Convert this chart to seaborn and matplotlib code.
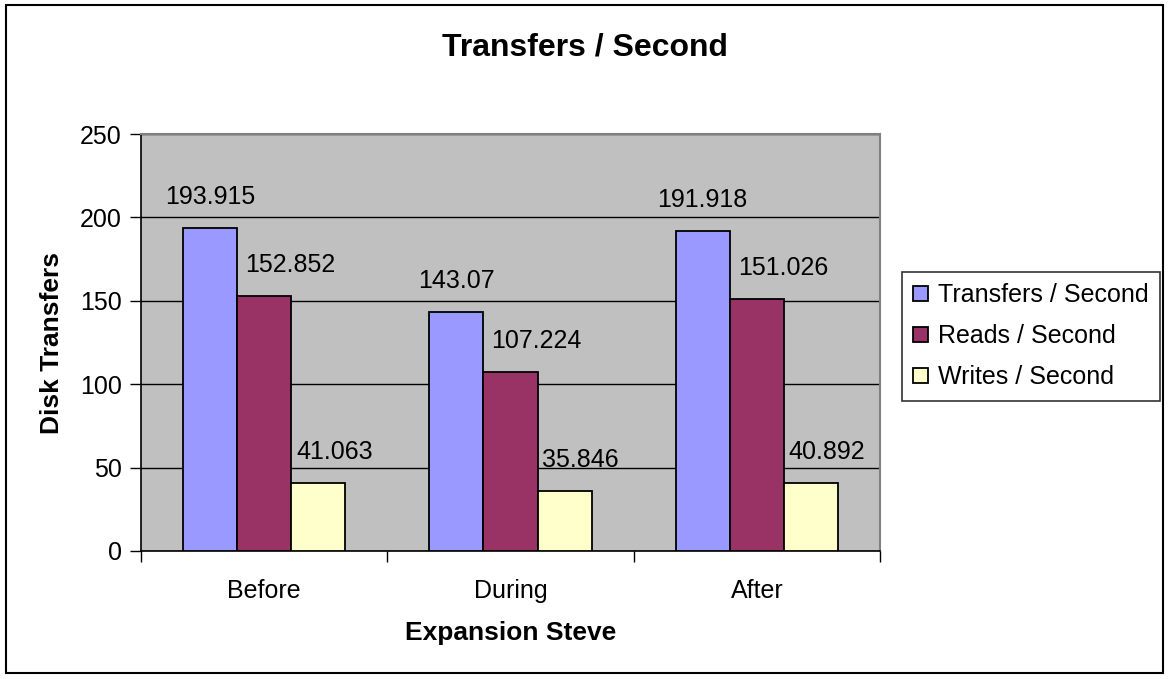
import matplotlib
matplotlib.use('Agg')
import matplotlib.pyplot as plt
import seaborn as sns
import pandas as pd
from matplotlib.patches import Rectangle

# ── Data ─────────────────────────────────────────────────────
phases    = ["Before", "During", "After"]
series    = ["Transfers / Second", "Reads / Second", "Writes / Second"]
transfers = [193.915, 143.07, 191.918]
reads     = [152.852, 107.224, 151.026]
writes    = [41.063, 35.846, 40.892]
labels    = {
    "Transfers / Second": ["193.915", "143.07", "191.918"],
    "Reads / Second":     ["152.852", "107.224", "151.026"],
    "Writes / Second":    ["41.063", "35.846", "40.892"],
}
colors    = ["#9999FF", "#993366", "#FFFFCC"]

df = pd.DataFrame({
    "phase":  phases * 3,
    "series": [s for s in series for _ in phases],
    "value":  transfers + reads + writes,
})

# ── Style ────────────────────────────────────────────────────
sns.set_style("white")
plt.rcParams['font.family'] = ['Liberation Sans', 'DejaVu Sans']
plt.rcParams['text.color'] = 'black'
plt.rcParams['axes.labelcolor'] = 'black'
plt.rcParams['xtick.color'] = 'black'
plt.rcParams['ytick.color'] = 'black'

fig = plt.figure(figsize=(11.7, 6.79), dpi=100)
ax = fig.add_axes([141/1170, 1 - 551/679, (880-141)/1170, (551-134)/679])
ax.set_facecolor("#C0C0C0")

sns.barplot(data=df, x="phase", y="value", hue="series",
            order=phases, hue_order=series, palette=colors,
            width=0.66, gap=0, edgecolor="black", linewidth=1.3,
            saturation=1, errorbar=None, ax=ax, zorder=3)

# value labels above bars (Excel-style offsets)
dx_px = {"Transfers / Second": 0, "Reads / Second": 26, "Writes / Second": 16}
for cont, name in zip(ax.containers, series):
    for bar, txt in zip(cont, labels[name]):
        ax.annotate(txt, (bar.get_x() + bar.get_width()/2, bar.get_height()),
                    xytext=(dx_px[name], 19), textcoords='offset pixels',
                    ha='center', va='bottom', fontsize=18, color='black', zorder=4)

# ── Axes ─────────────────────────────────────────────────────
ax.set_ylim(0, 250)
ax.set_xlim(-0.5, 2.5)
ax.set_yticks(range(0, 251, 50))
ax.yaxis.grid(True, color="black", linewidth=1, zorder=1)
ax.set_axisbelow(True)
ax.tick_params(axis='y', labelsize=18, length=8, width=1, direction='out',
               left=True, pad=6, colors='black')
ax.set_xticks(range(3))
ax.set_xticklabels(phases)
ax.tick_params(axis='x', labelsize=18, length=0, pad=20, colors='black')
ax.set_xticks([-0.5, 0.5, 1.5, 2.5], minor=True)
ax.tick_params(axis='x', which='minor', length=8, width=1, direction='out', bottom=True)

for side in ['left', 'bottom']:
    ax.spines[side].set_color('black')
    ax.spines[side].set_linewidth(1.2)
for side in ['top', 'right']:
    ax.spines[side].set_color('#808080')
    ax.spines[side].set_linewidth(1.5)

ax.set_xlabel("Expansion Steve", fontsize=19, fontweight='bold', labelpad=13)
ax.set_ylabel("Disk Transfers", fontsize=19, fontweight='bold', labelpad=11)

# ── Legend ───────────────────────────────────────────────────
handles, lbls = ax.get_legend_handles_labels()
ax.legend(handles, lbls, loc='upper left',
          bbox_to_anchor=(902/1170, 1 - 272/679), bbox_transform=fig.transFigure,
          fontsize=18, frameon=True, fancybox=False, edgecolor='black',
          handlelength=0.6, handleheight=0.6, handletextpad=0.4,
          labelspacing=0.68, borderpad=0.45, borderaxespad=0)
ax.get_legend().get_frame().set_linewidth(1.2)

# ── Title & border ───────────────────────────────────────────
fig.text(0.5, 1 - 48/679, "Transfers / Second", ha='center', va='center',
         fontsize=23, fontweight='bold')
fig.patches.append(Rectangle((6/1170, 1 - 673/679), (1163-6)/1170, (673-5)/679,
                             transform=fig.transFigure, fill=False,
                             edgecolor='black', linewidth=1.5))

plt.savefig("out.png", dpi=100)
